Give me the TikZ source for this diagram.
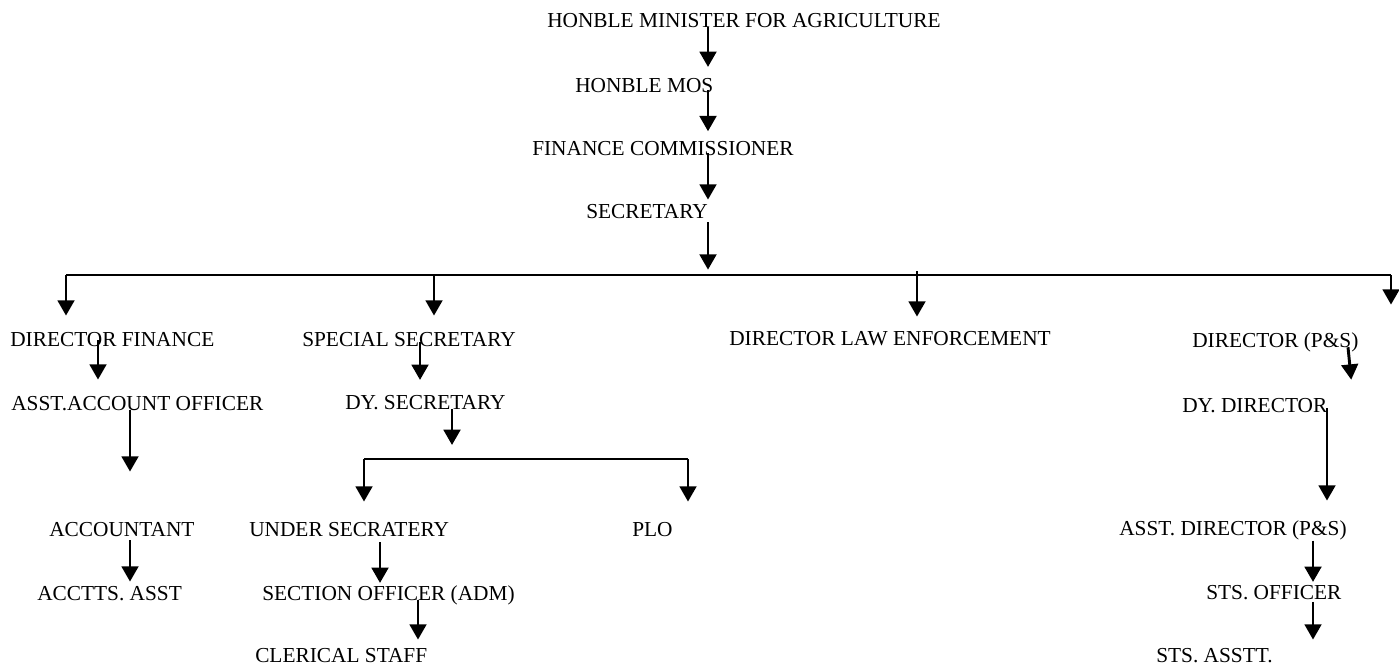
\documentclass[tikz,border=0pt]{standalone}
\usepackage{fontspec}
\setmainfont{Liberation Serif}
\usetikzlibrary{arrows.meta}
\tikzset{
  post/.style={inner sep=0pt,text height=10.6pt,text depth=0pt,anchor=base west,
    font=\fontsize{16pt}{19pt}\selectfont},
  arr/.style={-{Triangle[width=12.5pt,length=11.5pt]},line width=2.2pt},
  bus/.style={line width=1.6pt},
}
\begin{document}
\begin{tikzpicture}[x=0.75pt,y=-0.75pt]
  \useasboundingbox (0,0) rectangle (1399,664);
  % posts
  \node[post] (min) at (547,27) {HONBLE MINISTER FOR AGRICULTURE};
  \node[post] (mos) at (575,92) {HONBLE MOS};
  \node[post] (fc) at (532,155) {FINANCE COMMISSIONER};
  \node[post] (sec) at (586,218) {SECRETARY};
  \node[post] (df) at (10,346) {DIRECTOR FINANCE};
  \node[post] (ss) at (302,346) {SPECIAL SECRETARY};
  \node[post] (dle) at (729,345) {DIRECTOR LAW ENFORCEMENT};
  \node[post] (dps) at (1192,347) {DIRECTOR (P\&S)};
  \node[post] (aao) at (11,410) {ASST.ACCOUNT OFFICER};
  \node[post] (dy) at (345,409) {DY. SECRETARY};
  \node[post] (dd) at (1182,412) {DY. DIRECTOR};
  \node[post] (acc) at (49,536) {ACCOUNTANT};
  \node[post] (us) at (249,536) {UNDER SECRATERY};
  \node[post] (plo) at (632,536) {PLO};
  \node[post] (ad) at (1119,535) {ASST. DIRECTOR (P\&S)};
  \node[post] (accts) at (37,600) {ACCTTS. ASST};
  \node[post] (so) at (262,600) {SECTION OFFICER (ADM)};
  \node[post] (sto) at (1206,599) {STS. OFFICER};
  \node[post] (cl) at (255,662) {CLERICAL STAFF};
  \node[post] (sta) at (1156,662) {STS. ASSTT.};
  % columns and bars
  \coordinate (spine) at (708,0);
  \coordinate (b1) at (66,275);
  \coordinate (b2) at (434,275);
  \coordinate (b3) at (917,275);
  \coordinate (b4) at (1391,275);
  \coordinate (r1) at (364,459);
  \coordinate (r2) at (688,459);
  \coordinate (cdf) at (98,0);
  \coordinate (css) at (420,0);
  \coordinate (cp1) at (1348,0);
  \coordinate (cp2) at (1353,0);
  \coordinate (caao) at (130,0);
  \coordinate (cdy) at (452,0);
  \coordinate (cdd) at (1327,0);
  \coordinate (cus) at (380,0);
  \coordinate (cso) at (418,0);
  \coordinate (cad) at (1313,0);
  % top line
  \draw[arr,shorten >=8pt] (min.south -| spine) -- (mos.north -| spine);
  \draw[arr,shorten <=-1.5pt,shorten >=7pt] (mos.south -| spine) -- (fc.north -| spine);
  \draw[arr,shorten <=-1.5pt,shorten >=3pt] (fc.south -| spine) -- (sec.north -| spine);
  \draw[arr,shorten <=3pt,shorten >=4pt] (sec.south -| spine) -- (b1 -| spine);
  \draw[bus] (b1) -- (b4);
  \draw[arr,shorten >=12pt] (b1) -- (df.north -| b1);
  \draw[arr,shorten >=12pt] (b2) -- (ss.north -| b2);
  \draw[arr,shorten <=-3pt,shorten >=10.5pt] (b3) -- (dle.north -| b3);
  \draw[arr,shorten >=21pt] (b4) -- (dps.north -| b4);
  % finance
  \draw[arr,shorten <=-4.5pt,shorten >=12pt] (df.south -| cdf) -- (aao.north -| cdf);
  \draw[arr,shorten >=37.5pt] (aao.south -| caao) -- (acc.north -| caao);
  \draw[arr,shorten <=3pt,shorten >=3pt] (acc.south -| caao) -- (accts.north -| caao);
  % secretariat
  \draw[arr,shorten <=-3pt,shorten >=11pt] (ss.south -| css) -- (dy.north -| css);
  \draw[arr,shorten >=10.5pt] (dy.south -| cdy) -- (r1 -| cdy);
  \draw[bus] (r1) -- (r2);
  \draw[arr,shorten >=15pt] (r1) -- (us.north -| r1);
  \draw[arr,shorten >=15pt] (r2) -- (plo.north -| r2);
  \draw[arr,shorten <=4.5pt,shorten >=2pt] (us.south -| cus) -- (so.north -| cus);
  \draw[arr,shorten >=6pt] (so.south -| cso) -- (cl.north -| cso);
  % plant protection
  \draw[arr,shorten >=13.5pt] (dps.south -| cp1) -- (dd.north -| cp2);
  \draw[arr,shorten <=-3pt,shorten >=15pt] (dd.south -| cdd) -- (ad.north -| cdd);
  \draw[arr,shorten <=4pt,shorten >=2pt] (ad.south -| cad) -- (sto.north -| cad);
  \draw[arr,shorten <=2pt,shorten >=6pt] (sto.south -| cad) -- (sta.north -| cad);
\end{tikzpicture}
\end{document}
